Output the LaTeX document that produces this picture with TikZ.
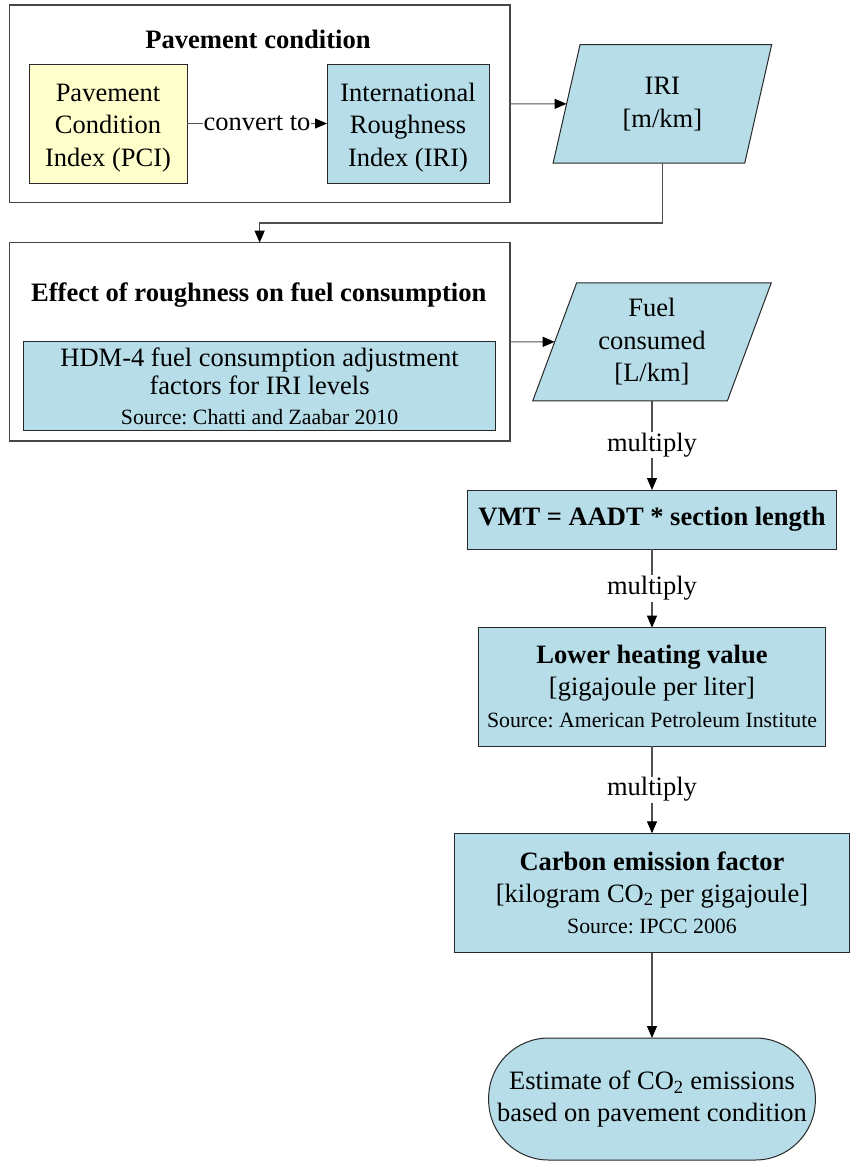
\documentclass[tikz,border=0pt]{standalone}
\usepackage{fontspec}
\setmainfont{Liberation Serif}
\usetikzlibrary{arrows.meta,shapes.geometric}
\frenchspacing

\definecolor{boxblue}{RGB}{183,221,232}
\definecolor{boxyellow}{RGB}{255,255,204}
\definecolor{edgedark}{RGB}{40,40,40}
\definecolor{framegray}{RGB}{70,70,70}
\definecolor{linegray}{RGB}{80,80,80}

\newcommand\txtmain{\fontsize{26.5}{32.5}\selectfont}
\newcommand\txtsrc{\fontsize{21.8}{26}\selectfont}
% taller first line, so three-line box texts sit a little lower
\newcommand\toplift{\rule{0pt}{26pt}}

\tikzset{
  frame/.style={draw=framegray, line width=1.2pt, fill=white, inner sep=0pt, outer sep=0pt},
  shapebase/.style={draw=edgedark, line width=1pt, inner sep=0pt, outer sep=0pt, align=center, font=\txtmain},
  bluebox/.style={shapebase, fill=boxblue},
  yellowbox/.style={shapebase, fill=boxyellow},
  databox/.style={shapebase, fill=boxblue, trapezium, trapezium left angle=63.2,
    trapezium right angle=116.8, trapezium stretches body},
  endbox/.style={shapebase, fill=boxblue, rounded corners=60pt},
  grouptitle/.style={anchor=base, font=\bfseries\fontsize{26.6}{30}\selectfont, inner sep=0pt},
  conn/.style={draw=linegray, line width=1.1pt},
  arr/.style={conn, -{Triangle[length=12pt,width=10pt,color=black]}},
  lbl/.style={fill=white, inner sep=1pt, font=\fontsize{26.5}{30}\selectfont}
}

\begin{document}
\begin{tikzpicture}[x=1pt,y=-1pt]
\useasboundingbox (0,0) rectangle (851,1162);

% group: pavement condition
\node[frame, minimum width=500.7pt, minimum height=197.7pt] (grp1) at (259.65,103.85) {};
\node[grouptitle] (grp1title) at (258,48) {Pavement condition};
\node[yellowbox, minimum width=158pt, minimum height=119pt] (pci) at (108,123.5)
  {\toplift Pavement\\Condition\\Index (PCI)};
\node[bluebox, minimum width=162pt, minimum height=119pt] (iribox) at (408,123.5)
  {\toplift International\\Roughness\\Index (IRI)};
\draw[arr] (pci.east) -- node[lbl] (convlbl) {convert to} (iribox.west);

% IRI data
\node[databox, minimum width=218.6pt, minimum height=118.6pt] (iri) at (662.4,103.85)
  {IRI\\{[m/km]}};
\draw[arr] (grp1.east) -- (iri);

% group: effect of roughness
\node[frame, minimum width=500.7pt, minimum height=198.3pt] (grp2) at (259.65,341.85) {};
\node[grouptitle] (grp2title) at (258.8,301.5) {Effect of roughness on fuel consumption};
\node[bluebox, minimum width=472.1pt, minimum height=89pt, font=\fontsize{26.5}{28}\selectfont]
  (hdm) at (259.55,386.2)
  {HDM-4 fuel consumption adjustment\\factors for IRI levels\\[2pt]{\txtsrc Source: Chatti and Zaabar 2010}};

\coordinate (jog) at (662.4,223);
\draw[arr] (iri.center|-iri.south) -- (iri.center|-jog) -- (grp2.north|-jog) -- (grp2.north);

% fuel data
\node[databox, minimum width=238.5pt, minimum height=118pt] (fuel) at (652,341.85)
  {Fuel\\consumed\\{[L/km]}};
\draw[arr] (grp2.east) -- (fuel);

% calculation chain
\node[bluebox, minimum width=368.7pt, minimum height=59.3pt, font=\bfseries\txtmain]
  (vmt) at (652,519.65) {VMT = AADT * section length};
\node[bluebox, minimum width=346.7pt, minimum height=118.3pt, font=\fontsize{26.5}{32}\selectfont]
  (lhv) at (652,686.85)
  {\textbf{Lower heating value}\\{[gigajoule per liter]}\\{\txtsrc Source: American Petroleum Institute}};
\node[bluebox, minimum width=395.7pt, minimum height=119.4pt, font=\fontsize{26.5}{31.5}\selectfont]
  (cef) at (652,893)
  {\textbf{Carbon emission factor}\\{[kilogram CO\textsubscript{2} per gigajoule]}\\{\txtsrc Source: IPCC 2006}};
\node[endbox, minimum width=326.7pt, minimum height=122pt, font=\fontsize{26.5}{31.6}\selectfont]
  (est) at (652,1099)
  {Estimate of CO\textsubscript{2} emissions\\based on pavement condition};

\draw[arr] (fuel.center|-fuel.south) -- node[lbl] (mul1) {multiply} (vmt.north);
\draw[arr] (vmt.south) -- node[lbl] (mul2) {multiply} (lhv.north);
\draw[arr] (lhv.south) -- node[lbl] (mul3) {multiply} (cef.north);
\draw[arr] (cef.south) -- (est.north);
\end{tikzpicture}
\end{document}
